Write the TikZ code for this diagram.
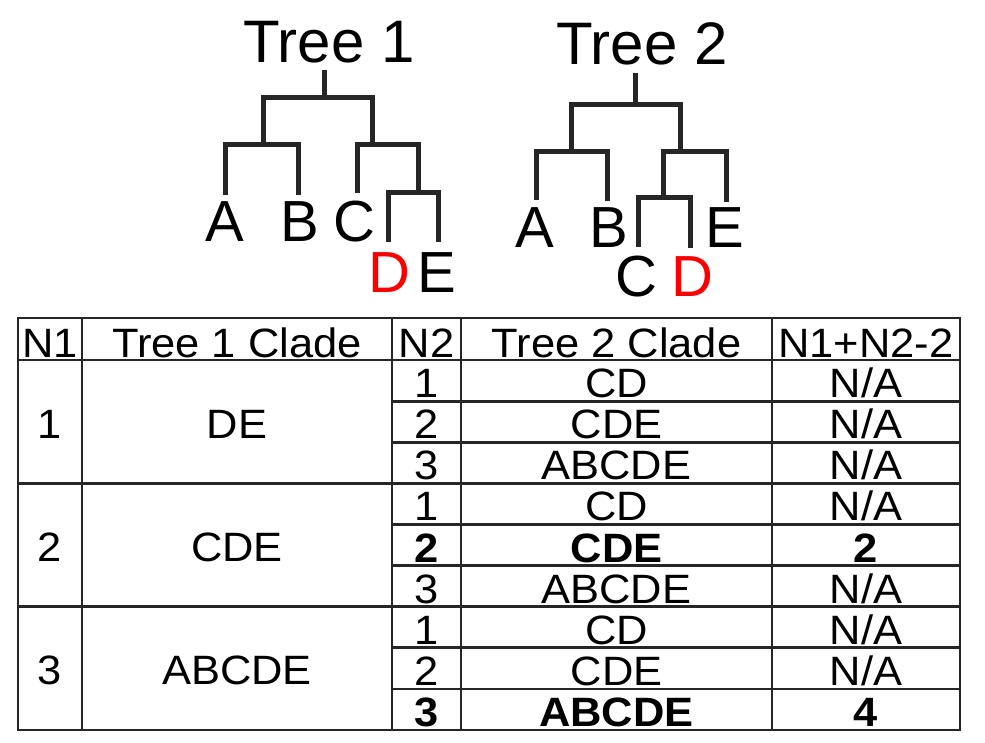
\documentclass[tikz,border=0pt]{standalone}
\usepackage{fontspec}
\setmainfont{Liberation Sans}
\newfontfamily\tablefont[FakeStretch=1.06]{Liberation Sans}
\definecolor{inkgray}{RGB}{38,38,38}
\definecolor{cladered}{RGB}{250,0,0}
\newcommand{\na}{N/A}

\begin{document}
\begin{tikzpicture}[x=1pt,y=-1pt,
  branch/.style={draw=inkgray, line width=5pt},
  leaf/.style={anchor=base, inner sep=0pt, font=\fontsize{58}{60}\selectfont},
  treetitle/.style={anchor=base, inner sep=0pt, font=\fontsize{60}{62}\selectfont},
  cell/.style={anchor=base, inner sep=0pt, font=\tablefont\fontsize{41}{48}\selectfont},
  span/.style={cell, anchor=center},
  rule/.style={draw=inkgray, line width=2.8pt, line cap=rect}]
\useasboundingbox (0,0) rectangle (985,743);

% tree 1
\node[treetitle] (title1) at (329,63) {Tree 1};
\coordinate (top1) at (324,70);
\coordinate (root1) at (324,98);
\coordinate (ab1) at (263,145);
\coordinate (cde1) at (372,145);
\coordinate (de1) at (418,193);
\coordinate (a1) at (225,195);
\coordinate (b1) at (298,195);
\coordinate (c1) at (357,193);
\coordinate (d1) at (388,242);
\coordinate (e1) at (438,242);
\draw[branch] (top1) -- (root1);
\draw[branch] (root1) -| (ab1);
\draw[branch] (root1) -| (cde1);
\draw[branch] (ab1) -| (a1);
\draw[branch] (ab1) -| (b1);
\draw[branch] (cde1) -| (c1);
\draw[branch] (cde1) -| (de1);
\draw[branch] (de1) -| (d1);
\draw[branch] (de1) -| (e1);
\node[leaf] (la1) at (225,242) {A};
\node[leaf] (lb1) at (300,242) {B};
\node[leaf] (lc1) at (354,242) {C};
\node[leaf, text=cladered] (ld1) at (389,293) {D};
\node[leaf] (le1) at (437,293) {E};

% tree 2
\node[treetitle] (title2) at (642,65) {Tree 2};
\coordinate (top2) at (635,73);
\coordinate (root2) at (635,105);
\coordinate (ab2) at (571,152);
\coordinate (cde2) at (680,152);
\coordinate (cd2) at (663,198);
\coordinate (a2) at (536,200);
\coordinate (b2) at (607,201);
\coordinate (e2) at (726,202);
\coordinate (c2) at (638,247);
\coordinate (d2) at (690,248);
\draw[branch] (top2) -- (root2);
\draw[branch] (root2) -| (ab2);
\draw[branch] (root2) -| (cde2);
\draw[branch] (ab2) -| (a2);
\draw[branch] (ab2) -| (b2);
\draw[branch] (cde2) -| (cd2);
\draw[branch] (cde2) -| (e2);
\draw[branch] (cd2) -| (c2);
\draw[branch] (cd2) -| (d2);
\node[leaf] (la2) at (535,248) {A};
\node[leaf] (lb2) at (609,248) {B};
\node[leaf] (le2) at (725,248) {E};
\node[leaf] (lc2) at (636,297) {C};
\node[leaf, text=cladered] (ld2) at (692,297) {D};

% table rules
\foreach \x in {18,82,392,461,772,960}
  \draw[rule] (\x,318) -- (\x,730);
\foreach \y in {318,360,483.3,606.7,730}
  \draw[rule] (18,\y) -- (960,\y);
\foreach \y in {401.1,442.2,524.4,565.5,647.8,688.9}
  \draw[rule] (392,\y) -- (960,\y);

% header
\node[cell] (hn1) at (50,357) {N1};
\node[cell] (hclade1) at (237,357) {Tree 1 Clade};
\node[cell] (hn2) at (426.5,357) {N2};
\node[cell] (hclade2) at (616.5,357) {Tree 2 Clade};
\node[cell] (hsum) at (866,357) {N1+N2-2};

% tree 1 clades, three rows each
\node[span] (n1-1) at (50,424) {1};
\node[span] (clade1-1) at (237,424) {DE};
\node[span] (n1-2) at (50,547) {2};
\node[span] (clade1-2) at (237,547) {CDE};
\node[span] (n1-3) at (50,670) {3};
\node[span] (clade1-3) at (237,670) {ABCDE};

% tree 2 clades
\foreach \n/\clade/\val [count=\k] in {
    1/CD/\na, 2/CDE/\na, 3/ABCDE/\na,
    1/CD/\na, \textbf{2}/\textbf{CDE}/\textbf{2}, 3/ABCDE/\na,
    1/CD/\na, 2/CDE/\na, \textbf{3}/\textbf{ABCDE}/\textbf{4}} {
  \pgfmathsetmacro\yb{356.5+41.1*\k}
  \node[cell] (n2-\k) at (426.5,\yb) {\n};
  \node[cell] (clade2-\k) at (616.5,\yb) {\clade};
  \node[cell] (sum-\k) at (866,\yb) {\val};
}
\end{tikzpicture}
\end{document}
